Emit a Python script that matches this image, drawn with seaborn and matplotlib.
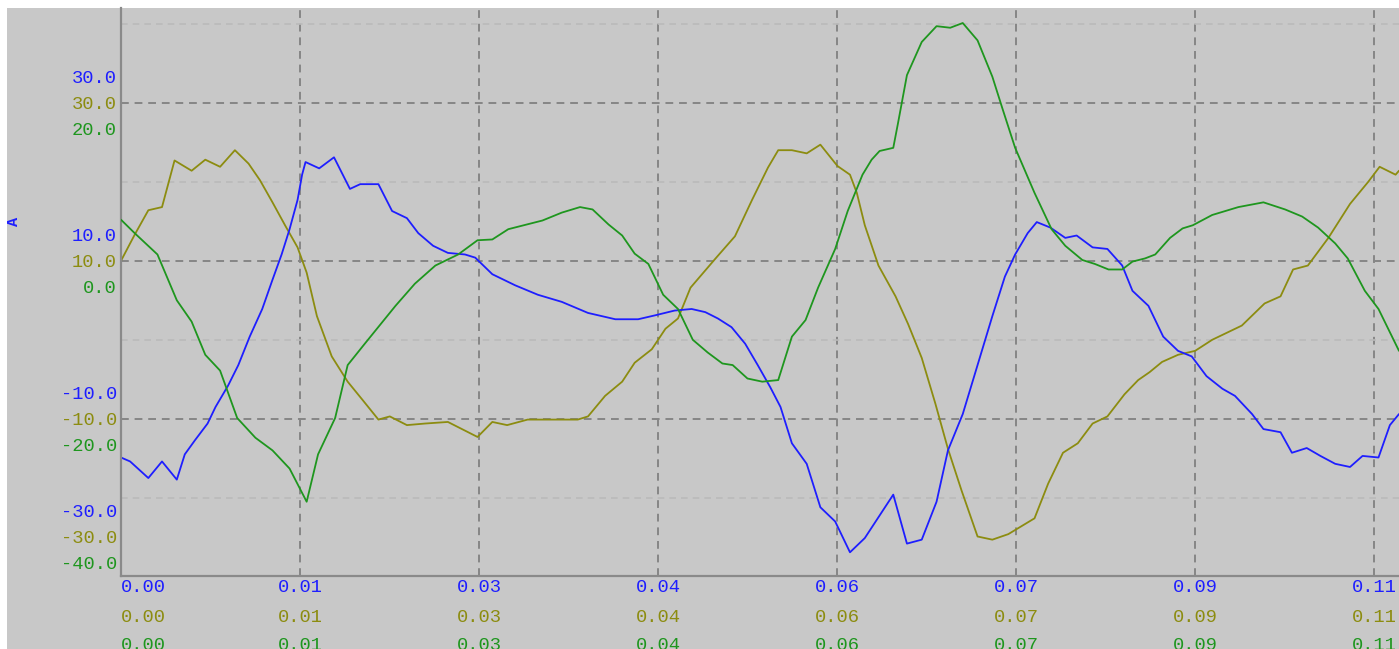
"""
plot.py
Three-channel trace (blue / olive / green) with stacked axis labels.
"""

import numpy as np
import pandas as pd
import matplotlib
matplotlib.use('Agg')
import matplotlib.pyplot as plt
import seaborn as sns
from matplotlib.patches import Rectangle
from matplotlib.transforms import offset_copy, blended_transform_factory

BG    = "#c8c8c8"
BLUE  = "#1e1eff"
OLIVE = "#8c8c10"
GREEN = "#1e961e"
FONT  = "Liberation Mono"

# --- data (time in ms) ---
blue_t = [0.0, 0.8, 2.4, 3.6, 4.9, 5.6, 6.5, 7.6, 8.3, 9.4, 10.3, 11.3, 12.4,
          13.3, 14.1, 14.8, 15.5, 15.9, 16.2, 17.4, 18.7, 20.1, 21.0, 22.6,
          23.8, 25.1, 26.1, 27.4, 28.7, 30.2, 31.1, 32.6, 34.6, 36.6, 38.7,
          41.0, 43.4, 45.4, 46.9, 48.6, 50.1, 51.3, 52.4, 53.6, 54.8, 55.9,
          57.0, 57.9, 58.9, 60.2, 61.4, 62.7, 64.0, 65.3, 67.8, 69.0, 70.3,
          71.6, 72.6, 73.9, 75.2, 76.5, 77.6, 78.5, 79.6, 80.4, 81.6, 82.9,
          83.9, 85.3, 86.6, 87.9, 88.8, 90.2, 91.5, 92.8, 94.0, 95.3, 96.7,
          97.8, 99.3, 100.3, 101.8, 102.8, 104.1, 105.3, 106.6, 107.9, 109.0,
          110.4, 111.4, 112.2]
blue_v = [-14.9, -15.4, -17.5, -15.4, -17.7, -14.5, -12.7, -10.6, -8.5, -5.8,
          -3.2, 0.4, 3.9, 7.6, 10.8, 14.0, 17.7, 20.9, 22.5, 21.7, 23.1, 19.1,
          19.7, 19.7, 16.3, 15.4, 13.5, 11.9, 11.0, 10.8, 10.4, 8.3, 6.9, 5.7,
          4.8, 3.4, 2.6, 2.6, 3.1, 3.7, 3.9, 3.5, 2.7, 1.6, -0.5, -3.2, -6.0,
          -8.5, -13.1, -15.7, -21.2, -23.0, -26.9, -25.1, -19.6, -25.8, -25.3,
          -20.5, -14.0, -9.4, -3.2, 3.0, 8.0, 10.8, 13.5, 14.9, 14.2, 12.9,
          13.2, 11.7, 11.5, 9.4, 6.2, 4.3, 0.4, -1.4, -2.1, -4.6, -6.2, -7.1,
          -9.4, -11.3, -11.7, -14.3, -13.7, -14.7, -15.7, -16.1, -14.7, -14.9,
          -10.8, -9.4]

olive_t = [0.0, 1.2, 2.4, 3.6, 4.7, 6.2, 7.4, 8.7, 10.0, 11.2, 12.2, 13.3,
           14.4, 15.5, 16.3, 17.2, 18.5, 19.9, 21.2, 22.6, 23.6, 25.1, 26.7,
           28.7, 31.3, 32.6, 33.9, 35.7, 40.1, 41.0, 42.5, 44.0, 45.1, 46.6,
           47.8, 48.9, 50.0, 52.2, 53.9, 55.4, 56.8, 57.7, 58.9, 60.2, 61.4,
           62.9, 64.0, 64.6, 65.3, 66.5, 68.0, 69.1, 70.3, 71.5, 72.6, 73.8,
           75.2, 76.5, 77.9, 80.2, 81.4, 82.7, 84.0, 85.3, 86.6, 88.1, 89.3,
           90.3, 91.4, 92.8, 94.3, 95.8, 98.4, 100.4, 101.8, 102.9, 104.2,
           106.0, 107.9, 109.5, 110.5, 111.9, 112.2]
olive_v = [10.0, 13.3, 16.4, 16.8, 22.7, 21.4, 22.8, 21.9, 24.0, 22.3, 20.2,
           17.4, 14.5, 11.7, 8.5, 3.0, -2.1, -5.3, -7.6, -10.1, -9.7, -10.8,
           -10.6, -10.4, -12.3, -10.4, -10.8, -10.1, -10.1, -9.7, -7.1, -5.3,
           -2.9, -1.2, 1.4, 2.7, 6.6, 10.3, 13.1, 17.7, 21.8, 24.0, 24.0, 23.6,
           24.7, 22.0, 20.9, 18.6, 14.5, 9.4, 5.5, 2.0, -2.3, -8.1, -13.8,
           -19.1, -24.9, -25.3, -24.6, -22.6, -18.2, -14.3, -13.1, -10.6, -9.7,
           -6.9, -5.1, -4.1, -2.8, -1.9, -1.4, 0.0, 1.8, 4.6, 5.5, 8.9, 9.4,
           12.9, 17.2, 20.0, 21.9, 20.9, 21.4]

green_t = [0.0, 1.2, 3.2, 4.9, 6.2, 7.4, 8.7, 9.4, 10.2, 11.8, 13.3, 14.8,
           16.3, 17.3, 18.8, 19.9, 21.4, 23.2, 24.1, 25.8, 27.6, 29.6, 31.3,
           32.6, 34.0, 37.0, 38.7, 40.3, 41.4, 42.8, 44.0, 45.1, 46.3, 47.6,
           48.9, 50.2, 51.5, 52.8, 53.7, 55.0, 56.3, 57.7, 58.9, 60.1, 61.2,
           62.7, 63.8, 65.1, 65.9, 66.6, 67.8, 68.2, 69.0, 70.3, 71.6, 72.8,
           73.9, 75.2, 76.5, 77.4, 78.5, 80.2, 81.7, 82.9, 84.4, 85.5, 86.7,
           87.9, 88.8, 89.9, 90.8, 92.1, 93.2, 94.1, 95.8, 98.1, 100.3, 102.2,
           103.7, 105.1, 106.6, 107.7, 109.2, 110.4, 112.2]
green_v = [5.2, 3.5, 0.8, -5.0, -7.7, -11.9, -13.9, -16.7, -19.9, -22.4, -24.0,
           -26.3, -30.5, -24.5, -19.9, -13.2, -10.5, -7.3, -5.7, -2.9, -0.6,
           0.8, 2.6, 2.7, 4.0, 5.1, 6.1, 6.8, 6.5, 4.6, 3.2, 0.9, -0.4, -4.3,
           -6.1, -10.0, -11.6, -13.0, -13.2, -14.9, -15.3, -15.1, -9.6, -7.5,
           -3.4, 1.5, 6.3, 10.9, 12.8, 13.9, 14.3, 17.3, 23.5, 27.7, 29.7,
           29.5, 30.1, 27.9, 23.3, 19.2, 14.3, 8.6, 4.0, 1.9, 0.1, -0.4, -1.1,
           -1.1, -0.1, 0.3, 0.8, 2.9, 4.1, 4.5, 5.8, 6.8, 7.4, 6.5, 5.6, 4.2,
           2.2, 0.3, -3.8, -6.1, -11.4]

x_tick_labels = ["0.00", "0.01", "0.03", "0.04", "0.06", "0.07", "0.09", "0.11"]
x_tick_step   = 0.11 / 7
x_max         = 0.1122

ref_ticks    = [30, 10, -10, -30]       # blue and olive share this scale
green_ticks  = [20, 0, -20, -40]
minor_ticks  = [-20, 0, 20, 40]
y_lim        = (-29.9, 42.0)
green_shift  = 10                       # green scale sits 10 below the others

W, H = 1399, 649
PX = 72 / 100                           # pixel -> points

sns.set_style("white")
plt.rcParams['font.family'] = [FONT, 'DejaVu Sans Mono']

fig = plt.figure(figsize=(W / 100, H / 100), dpi=100)
fig.patch.set_facecolor("white")
fig.add_artist(Rectangle((7 / W, 0), 1, 1 - 8 / H, transform=fig.transFigure,
                         facecolor=BG, edgecolor="none", zorder=-10))

ax = fig.add_axes([121 / W, 73 / H, 1 - 121 / W, 568 / H])
ax.set_facecolor(BG)
ax2 = ax.twinx()
ax2.set_ylim(y_lim[0] - green_shift, y_lim[1] - green_shift)
ax2.axis("off")

df_blue  = pd.DataFrame({"t": np.array(blue_t) / 1000, "v": blue_v})
df_olive = pd.DataFrame({"t": np.array(olive_t) / 1000, "v": olive_v})
df_green = pd.DataFrame({"t": np.array(green_t) / 1000, "v": green_v})

sns.lineplot(data=df_olive, x="t", y="v", color=OLIVE, lw=1.3, ax=ax)
sns.lineplot(data=df_blue, x="t", y="v", color=BLUE, lw=1.3, ax=ax)
sns.lineplot(data=df_green, x="t", y="v", color=GREEN, lw=1.3, ax=ax2)

ax.set_xlim(0, x_max)
ax.set_ylim(*y_lim)
ax2.set_xlim(0, x_max)
x_ticks = [k * x_tick_step for k in range(len(x_tick_labels))]
ax.set_xticks(x_ticks)
ax.set_yticks([t for t in ref_ticks if t > y_lim[0]])
ax.set_yticks(minor_ticks, minor=True)
ax.grid(which="major", color="#868686", ls=(0, (4, 3)), lw=1.4)
ax.grid(which="minor", axis="y", color="#bababa", ls=(0, (4, 3)), lw=1.2)
ax.tick_params(which="both", length=0, labelleft=False, labelbottom=False)
ax.set_xlabel("")
ax.set_ylabel("")
for s in ["top", "right"]:
    ax.spines[s].set_visible(False)
for s in ["left", "bottom"]:
    ax.spines[s].set_color("#8a8a8a")
    ax.spines[s].set_linewidth(1.6)

# x labels: one row per channel (the third row runs off the bottom, as in the source)
fs = 13.5
trans_x = blended_transform_factory(ax.transData, ax.transAxes)
for row, (color, drop) in enumerate([(BLUE, 12), (OLIVE, 42), (GREEN, 69)]):
    tr = offset_copy(trans_x, fig=fig, y=-drop * PX, units="points")
    for i, (xt, lab) in enumerate(zip(x_ticks, x_tick_labels)):
        ax.text(xt, 0, lab, transform=tr, color=color, fontsize=fs,
                ha="left" if i == 0 else "center", va="center", clip_on=False)

# y labels: stacked blue / olive / green at each grid line
trans_y = blended_transform_factory(ax.transAxes, ax.transData)
trans_g = blended_transform_factory(ax.transAxes, ax2.transData)
for tick, gtick in zip(ref_ticks, green_ticks):
    lift = 40 if tick == min(ref_ticks) else 0
    for base, val, color, dy in [(trans_y, tick, BLUE, 24),
                                 (trans_y, tick, OLIVE, -2),
                                 (trans_g, gtick, GREEN, -28)]:
        tr = offset_copy(base, fig=fig, x=-4 * PX, y=(dy + lift) * PX,
                         units="points")
        ax.text(0, val, f"{val:.1f}", transform=tr, color=color, fontsize=fs,
                ha="right", va="center", clip_on=False)

fig.text(14 / W, 1 - 221 / H, "A", rotation=90, color=BLUE, fontsize=11,
         fontweight="bold", ha="center", va="center")

plt.savefig("out.png", dpi=100, facecolor=fig.get_facecolor())
plt.close()
